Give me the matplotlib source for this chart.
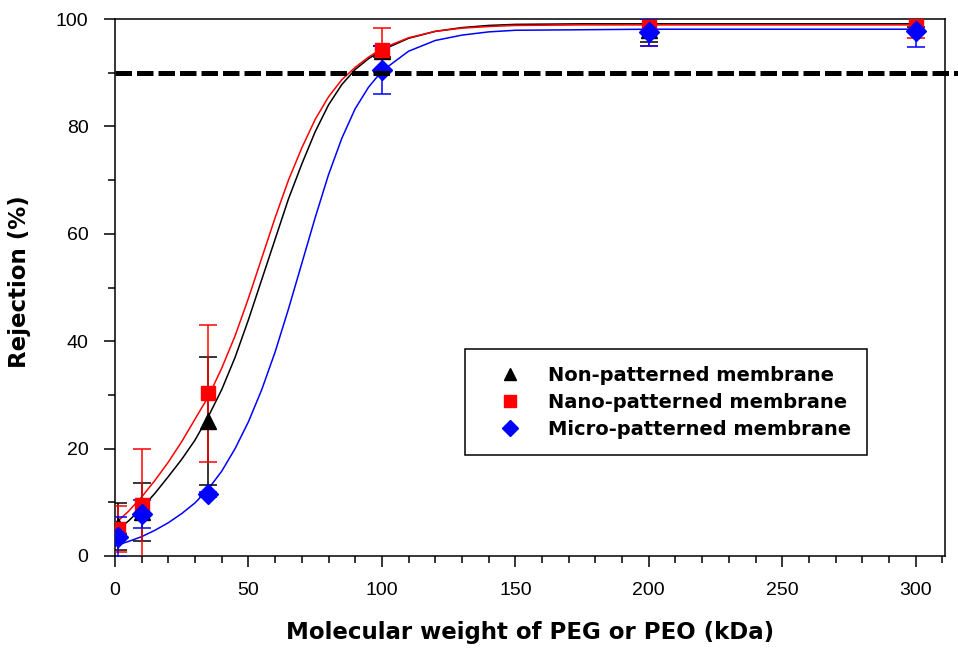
import matplotlib
matplotlib.use("Agg")
import matplotlib.pyplot as plt
from matplotlib.lines import Line2D
from matplotlib.ticker import MultipleLocator

# ---- data ----
mw = [1, 10, 35, 100, 200, 300]

non_y = [5.5, 8.2, 25.1, 94.0, 98.0, 99.5]
non_err = [4.3, 5.4, 11.9, 1.0, 2.3, 1.0]

nano_y = [5.0, 9.5, 30.3, 94.2, 98.5, 99.0]
nano_err = [4.3, 10.5, 12.8, 4.1, 3.6, 2.6]

micro_y = [3.6, 7.9, 11.5, 90.5, 97.5, 97.8]
micro_err = [3.7, 2.6, 0.5, 4.4, 2.5, 3.1]

# fitted curves, points
fit_x = [0, 5, 10, 15, 20, 25, 30, 35, 40, 45, 50, 55, 60, 65, 70, 75, 80, 85,
         90, 95, 100, 110, 120, 130, 140, 150, 175, 200, 250, 300]
non_fit = [4.5, 6.5, 8.9, 11.7, 14.8, 18.0, 21.6, 26.0, 31.0, 37.0, 44.0, 51.5,
           59.0, 66.5, 73.0, 79.0, 84.0, 87.8, 90.6, 92.6, 94.2, 96.4, 97.7,
           98.4, 98.8, 99.0, 99.1, 99.1, 99.1, 99.1]
nano_fit = [6.0, 8.3, 11.0, 14.1, 17.5, 21.3, 25.5, 29.7, 35.0, 41.0, 48.0, 55.5,
            63.0, 70.0, 76.0, 81.3, 85.5, 88.7, 91.0, 92.9, 94.5, 96.5, 97.7,
            98.3, 98.6, 98.8, 98.9, 98.9, 98.9, 98.9]
micro_fit = [1.9, 2.7, 3.6, 4.8, 6.2, 7.9, 9.9, 12.5, 15.8, 20.0, 25.0, 31.0,
             38.0, 46.0, 54.5, 63.0, 71.0, 77.8, 83.3, 87.3, 90.3, 94.0, 96.0,
             97.0, 97.6, 97.9, 98.0, 98.1, 98.1, 98.1]

threshold = 90
labels = ["Non-patterned membrane", "Nano-patterned membrane", "Micro-patterned membrane"]
colors = ["black", "#ff0000", "#0000ff"]
markers = ["^", "s", "D"]

# ---- figure ----
fig = plt.figure(figsize=(9.58, 6.48), dpi=100)
ax = fig.add_axes([115/958, 1-556/648, (945-115)/958, (556-19)/648])

tick_font = "Liberation Sans"
label_font = "DejaVu Sans"

# fit curves
for fy, c in zip([non_fit, nano_fit, micro_fit], colors):
    ax.plot(fit_x, fy, color=c, lw=1.1, zorder=2)

# data with error bars
msizes = [11, 10.5, 10]
for y, e, c, m, ms in zip([non_y, nano_y, micro_y], [non_err, nano_err, micro_err],
                          colors, markers, msizes):
    ax.errorbar(mw, y, yerr=e, fmt=m, color=c, ms=ms, mec=c, mfc=c,
                elinewidth=1.1, capsize=6.5, capthick=1.1, zorder=3)

# threshold dashed line
ax.plot([0, 325], [threshold, threshold], color="black", lw=3.6,
        linestyle=(0, (3.3, 1.0)), clip_on=False, zorder=4)

ax.set_xlim(0, 311)
ax.set_ylim(0, 100)
ax.xaxis.set_major_locator(MultipleLocator(50))
ax.xaxis.set_minor_locator(MultipleLocator(10))
ax.set_yticks([0, 20, 40, 60, 80, 100])
ax.set_yticks([10, 30, 50, 70, 90], minor=True)

ax.tick_params(which="major", direction="out", length=8, width=1.1, pad=11,
               labelsize=14)
ax.tick_params(which="minor", direction="out", length=5, width=1.1)
for lab in ax.get_xticklabels() + ax.get_yticklabels():
    lab.set_fontfamily(tick_font)
for s in ax.spines.values():
    s.set_linewidth(1.1)

fig.text(530/958, 1-632/648, "Molecular weight of PEG or PEO (kDa)",
         ha="center", va="center", fontsize=16.5, fontweight="bold",
         family=label_font)
fig.text(20/958, 1-282/648, "Rejection (%)", ha="center", va="center",
         rotation=90, fontsize=16.5, fontweight="bold", family=label_font)

handles = [Line2D([], [], ls="none", marker=m, color=c, ms=ms * 0.85)
           for m, c, ms in zip(markers, colors, msizes)]
leg = fig.legend(handles, labels, loc="upper left",
                 bbox_to_anchor=(465/958, 1-349/648),
                 bbox_transform=fig.transFigure, borderaxespad=0,
                 fancybox=False, edgecolor="black", framealpha=1,
                 borderpad=0.85, labelspacing=0.42, handlelength=2.9,
                 handletextpad=0.5,
                 prop={"family": label_font, "weight": "bold", "size": 14})
leg.get_frame().set_linewidth(1.1)

fig.savefig("out.png", dpi=100)
